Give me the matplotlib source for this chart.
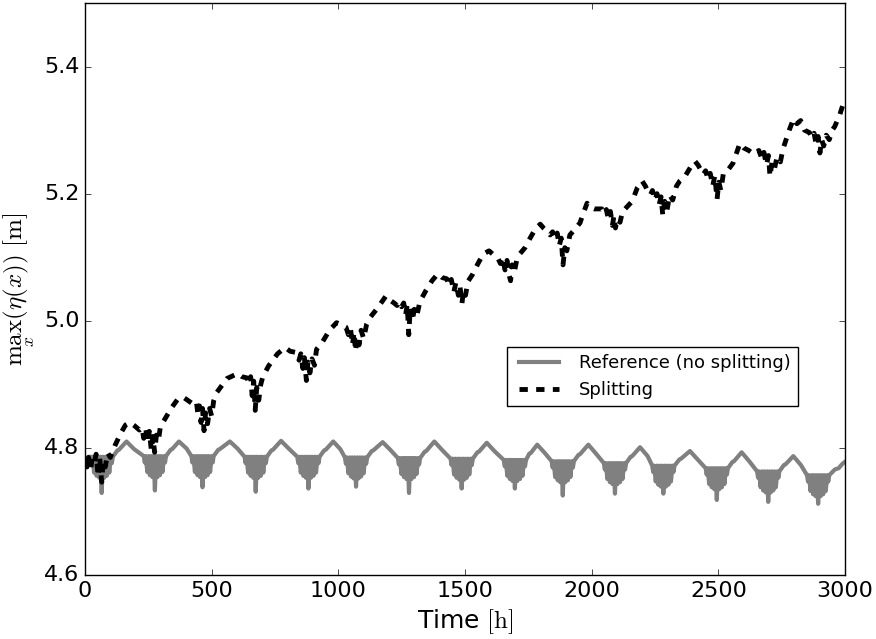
import numpy as np
import matplotlib
matplotlib.use('Agg')
import matplotlib.pyplot as plt
import matplotlib.ticker as ticker

plt.style.use('classic')

# reference run (no splitting): time [h] and max surface elevation [m]
ref_hours = [0, 8, 14,
             22, 26, 30, 36, 41, 46, 51, 56, 61, 66, 71, 76, 81, 86, 91, 96, 102, 106, 110, 128, 134, 164, 194,
             232, 236, 240, 246, 251, 256, 261, 266, 271, 276, 281, 286, 291, 296, 301, 306, 312, 316, 320, 338, 344, 371, 401,
             420, 424, 428, 434, 439, 444, 449, 454, 459, 464, 469, 474, 479, 484, 489, 494, 500, 504, 508, 526, 532, 572, 602,
             630, 634, 638, 644, 649, 654, 659, 664, 669, 674, 679, 684, 689, 694, 699, 704, 710, 714, 718, 736, 742, 774, 804,
             838, 842, 846, 852, 857, 862, 867, 872, 877, 882, 887, 892, 897, 902, 907, 912, 918, 922, 926, 944, 950, 980, 1008,
             1026, 1030, 1034, 1040, 1045, 1050, 1055, 1060, 1065, 1070, 1075, 1080, 1085, 1090, 1095, 1100, 1106, 1110, 1114, 1132, 1138, 1175, 1205,
             1235, 1239, 1243, 1249, 1254, 1259, 1264, 1269, 1274, 1279, 1284, 1289, 1294, 1299, 1304, 1309, 1315, 1319, 1323, 1341, 1347, 1379, 1409,
             1443, 1447, 1451, 1457, 1462, 1467, 1472, 1477, 1482, 1487, 1492, 1497, 1502, 1507, 1512, 1517, 1523, 1527, 1531, 1549, 1555, 1586, 1616,
             1653, 1657, 1661, 1667, 1672, 1677, 1682, 1687, 1692, 1697, 1702, 1707, 1712, 1717, 1722, 1727, 1733, 1737, 1741, 1754, 1760, 1785, 1815,
             1842, 1846, 1850, 1856, 1861, 1866, 1871, 1876, 1881, 1886, 1891, 1896, 1901, 1906, 1911, 1916, 1922, 1926, 1930, 1948, 1954, 1987, 2017,
             2048, 2052, 2056, 2062, 2067, 2072, 2077, 2082, 2087, 2092, 2097, 2102, 2107, 2112, 2117, 2122, 2128, 2132, 2136, 2154, 2160, 2191, 2221,
             2239, 2243, 2247, 2253, 2258, 2263, 2268, 2273, 2278, 2283, 2288, 2293, 2298, 2303, 2308, 2313, 2319, 2323, 2327, 2347, 2353, 2388, 2418,
             2450, 2454, 2458, 2464, 2469, 2474, 2479, 2484, 2489, 2494, 2499, 2504, 2509, 2514, 2519, 2524, 2530, 2534, 2538, 2556, 2562, 2592, 2622,
             2653, 2657, 2661, 2667, 2672, 2677, 2682, 2687, 2692, 2697, 2702, 2707, 2712, 2717, 2722, 2727, 2733, 2737, 2741, 2759, 2765, 2796, 2826,
             2850, 2854, 2858, 2864, 2869, 2874, 2879, 2884, 2889, 2894, 2899, 2904, 2909, 2914, 2919, 2924, 2930, 2934, 2938, 2960, 2975, 2990, 3000]
ref_eta = [4.784, 4.770, 4.786,
           4.786, 4.776, 4.786, 4.761, 4.786, 4.756, 4.786, 4.753, 4.786, 4.729, 4.786, 4.753, 4.786, 4.756, 4.786, 4.761, 4.786, 4.776, 4.786, 4.796, 4.797, 4.810, 4.798,
           4.787, 4.777, 4.787, 4.762, 4.787, 4.757, 4.787, 4.754, 4.787, 4.733, 4.787, 4.754, 4.787, 4.757, 4.787, 4.762, 4.787, 4.777, 4.787, 4.797, 4.798, 4.810, 4.799,
           4.787, 4.777, 4.787, 4.762, 4.787, 4.757, 4.787, 4.754, 4.787, 4.738, 4.787, 4.754, 4.787, 4.757, 4.787, 4.762, 4.787, 4.777, 4.787, 4.797, 4.798, 4.810, 4.799,
           4.786, 4.776, 4.786, 4.761, 4.786, 4.756, 4.786, 4.753, 4.786, 4.731, 4.786, 4.753, 4.786, 4.756, 4.786, 4.761, 4.786, 4.776, 4.786, 4.796, 4.797, 4.811, 4.799,
           4.786, 4.776, 4.786, 4.761, 4.786, 4.756, 4.786, 4.753, 4.786, 4.736, 4.786, 4.753, 4.786, 4.756, 4.786, 4.761, 4.786, 4.776, 4.786, 4.796, 4.797, 4.810, 4.798,
           4.785, 4.775, 4.785, 4.760, 4.785, 4.755, 4.785, 4.752, 4.785, 4.739, 4.785, 4.752, 4.785, 4.755, 4.785, 4.760, 4.785, 4.775, 4.785, 4.795, 4.796, 4.809, 4.797,
           4.784, 4.774, 4.784, 4.759, 4.784, 4.754, 4.784, 4.751, 4.784, 4.729, 4.784, 4.751, 4.784, 4.754, 4.784, 4.759, 4.784, 4.774, 4.784, 4.794, 4.795, 4.810, 4.797,
           4.783, 4.773, 4.783, 4.758, 4.783, 4.753, 4.783, 4.750, 4.783, 4.736, 4.783, 4.750, 4.783, 4.753, 4.783, 4.758, 4.783, 4.773, 4.783, 4.793, 4.794, 4.808, 4.795,
           4.781, 4.771, 4.781, 4.756, 4.781, 4.751, 4.781, 4.748, 4.781, 4.736, 4.781, 4.748, 4.781, 4.751, 4.781, 4.756, 4.781, 4.771, 4.781, 4.791, 4.792, 4.805, 4.792,
           4.779, 4.769, 4.779, 4.754, 4.779, 4.749, 4.779, 4.746, 4.779, 4.725, 4.779, 4.746, 4.779, 4.749, 4.779, 4.754, 4.779, 4.769, 4.779, 4.789, 4.790, 4.805, 4.791,
           4.776, 4.766, 4.776, 4.751, 4.776, 4.746, 4.776, 4.743, 4.776, 4.728, 4.776, 4.743, 4.776, 4.746, 4.776, 4.751, 4.776, 4.766, 4.776, 4.786, 4.787, 4.801, 4.787,
           4.772, 4.762, 4.772, 4.747, 4.772, 4.742, 4.772, 4.739, 4.772, 4.728, 4.772, 4.739, 4.772, 4.742, 4.772, 4.747, 4.772, 4.762, 4.772, 4.782, 4.783, 4.795, 4.782,
           4.768, 4.758, 4.768, 4.743, 4.768, 4.738, 4.768, 4.735, 4.768, 4.718, 4.768, 4.735, 4.768, 4.738, 4.768, 4.743, 4.768, 4.758, 4.768, 4.778, 4.779, 4.793, 4.779,
           4.763, 4.753, 4.763, 4.738, 4.763, 4.733, 4.763, 4.730, 4.763, 4.715, 4.763, 4.730, 4.763, 4.733, 4.763, 4.738, 4.763, 4.753, 4.763, 4.773, 4.774, 4.787, 4.773,
           4.757, 4.747, 4.757, 4.732, 4.757, 4.727, 4.757, 4.724, 4.757, 4.712, 4.757, 4.724, 4.757, 4.727, 4.757, 4.732, 4.757, 4.747, 4.757, 4.766, 4.768, 4.775, 4.778]

# splitting run
split_hours = [0, 8, 14, 22, 28, 36, 44, 52, 58, 66, 72, 80, 90, 100, 120, 140, 160, 178, 195,
               215, 225, 232, 240, 248, 254, 262, 268, 275, 282, 290, 298, 315, 340, 365, 387, 405,
               430, 440, 446, 452, 458, 464, 470, 476, 484, 492, 500, 508, 520, 560, 603, 620,
               640, 648, 654, 660, 666, 672, 678, 686, 694, 702, 725, 760, 790, 810,
               835, 845, 852, 860, 866, 874, 880, 888, 896, 906, 914, 935, 965, 993, 1010,
               1030, 1040, 1048, 1056, 1062, 1068, 1074, 1082, 1090, 1100, 1112, 1125, 1155, 1188, 1205,
               1220, 1232, 1240, 1250, 1258, 1266, 1272, 1278, 1284, 1292, 1300, 1310, 1322, 1345, 1370, 1393, 1410,
               1428, 1438, 1446, 1456, 1464, 1474, 1480, 1488, 1494, 1502, 1512, 1530, 1550, 1572, 1595, 1612,
               1628, 1640, 1648, 1658, 1666, 1674, 1680, 1686, 1694, 1704, 1716, 1737, 1757, 1777, 1797, 1812,
               1826, 1836, 1846, 1856, 1864, 1872, 1880, 1887, 1894, 1902, 1914, 1934, 1954, 1966, 1982, 1996, 2010,
               2040, 2050, 2058, 2066, 2074, 2082, 2088, 2094, 2102, 2112, 2122, 2132, 2160, 2180, 2199, 2212,
               2220, 2232, 2240, 2250, 2258, 2266, 2274, 2281, 2288, 2298, 2308, 2320, 2335, 2348, 2368, 2400, 2408, 2420,
               2430, 2440, 2450, 2460, 2468, 2478, 2486, 2495, 2502, 2510, 2520, 2534, 2558, 2585, 2600,
               2620, 2640, 2660, 2672, 2680, 2690, 2698, 2704, 2712, 2722, 2732, 2745, 2755, 2765, 2780, 2797, 2810, 2825, 2840,
               2860, 2870, 2878, 2886, 2894, 2901, 2908, 2916, 2926, 2938, 2950, 2960, 2980, 2992, 3000]
split_eta = [4.782, 4.770, 4.785, 4.765, 4.783, 4.775, 4.790, 4.755, 4.785, 4.746, 4.780, 4.770, 4.792, 4.785, 4.805, 4.822, 4.836, 4.840, 4.835,
             4.828, 4.832, 4.815, 4.830, 4.808, 4.826, 4.796, 4.818, 4.793, 4.820, 4.812, 4.834, 4.845, 4.862, 4.876, 4.880, 4.875,
             4.868, 4.872, 4.852, 4.866, 4.840, 4.862, 4.827, 4.855, 4.838, 4.862, 4.850, 4.874, 4.887, 4.909, 4.917, 4.912,
             4.910, 4.900, 4.912, 4.882, 4.905, 4.859, 4.895, 4.875, 4.900, 4.912, 4.929, 4.948, 4.958, 4.952,
             4.950, 4.938, 4.948, 4.925, 4.942, 4.906, 4.935, 4.918, 4.940, 4.930, 4.955, 4.965, 4.985, 4.997, 4.994,
             4.990, 4.978, 4.988, 4.962, 4.982, 4.952, 4.975, 4.962, 4.985, 4.972, 4.995, 5.005, 5.020, 5.039, 5.032,
             5.028, 5.024, 5.030, 5.022, 5.028, 5.010, 5.025, 4.978, 5.020, 5.000, 5.018, 5.008, 5.030, 5.047, 5.063, 5.074, 5.068,
             5.066, 5.055, 5.065, 5.045, 5.060, 5.040, 5.055, 5.027, 5.048, 5.040, 5.062, 5.073, 5.089, 5.105, 5.110, 5.104,
             5.100, 5.090, 5.100, 5.080, 5.095, 5.072, 5.063, 5.088, 5.075, 5.095, 5.105, 5.115, 5.130, 5.144, 5.152, 5.145,
             5.140, 5.135, 5.140, 5.128, 5.138, 5.118, 5.130, 5.088, 5.115, 5.110, 5.135, 5.144, 5.154, 5.168, 5.185, 5.178, 5.176,
             5.176, 5.168, 5.175, 5.160, 5.172, 5.150, 5.165, 5.146, 5.160, 5.155, 5.172, 5.176, 5.188, 5.209, 5.220, 5.212,
             5.205, 5.198, 5.205, 5.190, 5.200, 5.182, 5.195, 5.165, 5.188, 5.175, 5.198, 5.190, 5.212, 5.220, 5.227, 5.248, 5.251, 5.245,
             5.238, 5.230, 5.236, 5.222, 5.232, 5.212, 5.228, 5.191, 5.218, 5.205, 5.232, 5.235, 5.248, 5.279, 5.272,
             5.268, 5.262, 5.268, 5.255, 5.265, 5.245, 5.260, 5.227, 5.250, 5.240, 5.258, 5.250, 5.270, 5.282, 5.300, 5.318, 5.310, 5.315, 5.300,
             5.296, 5.288, 5.295, 5.278, 5.290, 5.264, 5.285, 5.275, 5.292, 5.285, 5.300, 5.306, 5.325, 5.340, 5.345]

fig = plt.figure(figsize=(8.76, 6.39), dpi=100)
fig.subplots_adjust(left=0.097, right=0.9646, bottom=0.1002, top=0.9953)
axes = plt.gca()

axes.plot(ref_hours, ref_eta, color='0.5', linewidth=3, linestyle='-', label='Reference (no splitting)')
axes.plot(split_hours, split_eta, color='k', linewidth=3.5, linestyle=(0, (6, 6)), label='Splitting')

axes.set_xlim(0, 3000)
axes.set_ylim(4.6, 5.5)
axes.xaxis.set_major_locator(ticker.MultipleLocator(500))
axes.yaxis.set_major_locator(ticker.FixedLocator([4.6, 4.8, 5.0, 5.2, 5.4]))
axes.yaxis.set_major_formatter(ticker.FormatStrFormatter('%.1f'))
axes.tick_params(axis='both', which='major', labelsize=16, direction='in')

axes.set_xlabel(r'Time $[\mathrm{h}]$', fontsize=18)
axes.set_ylabel(r'$\max_x(\eta(x))\ [\mathrm{m}]$', fontsize=18)

axes.legend(loc='upper right', bbox_to_anchor=(0.938, 0.399), fontsize=13,
            handlelength=2.8, fancybox=False, framealpha=1, borderaxespad=0)

plt.savefig('out.png', dpi=100)
